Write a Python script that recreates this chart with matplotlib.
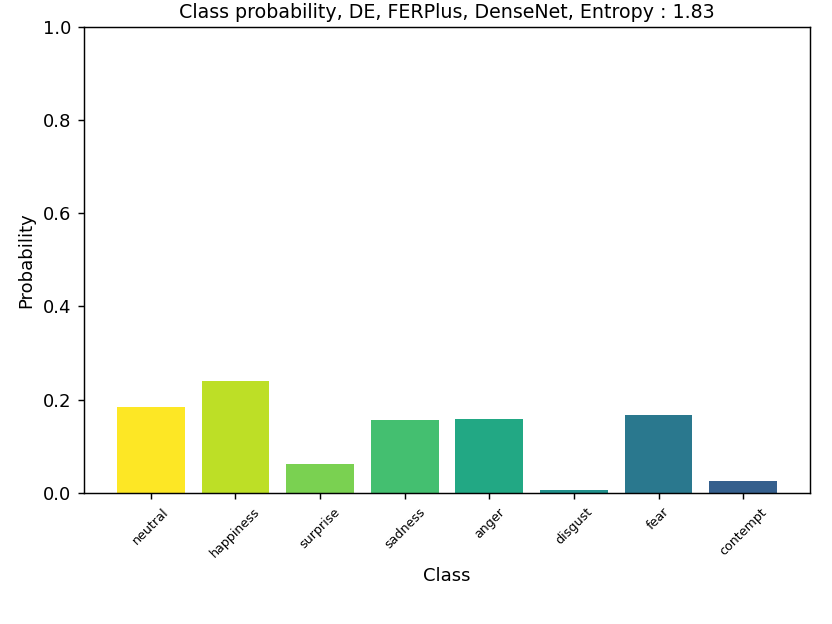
import matplotlib
matplotlib.use('Agg')
import matplotlib.pyplot as plt
import numpy as np

classes = ['neutral', 'happiness', 'surprise', 'sadness', 'anger', 'disgust', 'fear', 'contempt']
probs = [0.185, 0.241, 0.062, 0.157, 0.159, 0.006, 0.166, 0.026]
entropy = 1.83

colors = plt.cm.viridis(np.linspace(1.0, 0.3, len(classes)))

fig = plt.figure(figsize=(6.4, 4.8), dpi=130)
ax = fig.add_axes([0.101, 0.2103, 0.8725, 0.7464])
ax.bar(range(len(classes)), probs, width=0.8, color=colors)
ax.set_ylim(0, 1)
ax.set_xticks(range(len(classes)))
ax.set_xticklabels(classes, rotation=45, fontsize=7)
ax.set_xlabel('Class')
ax.set_ylabel('Probability')
ax.set_title('Class probability, DE, FERPlus, DenseNet, Entropy : %.2f' % entropy,
             fontsize=10.5, pad=5)

fig.savefig('out.png', dpi=130)
